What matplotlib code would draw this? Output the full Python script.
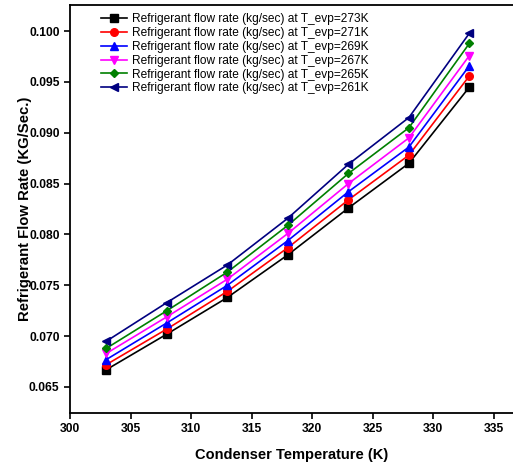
import matplotlib
matplotlib.use('Agg')
import matplotlib.pyplot as plt

plt.rcParams['font.family'] = ['Liberation Sans', 'DejaVu Sans']

# condenser temperature (K)
temp = [303, 308, 313, 318, 323, 328, 333]

# refrigerant flow rate (kg/sec) for each evaporator temperature
flow_273 = [0.0667, 0.0702, 0.0738, 0.0780, 0.0826, 0.0870, 0.0945]
flow_271 = [0.0672, 0.0707, 0.0744, 0.0787, 0.0834, 0.0878, 0.0956]
flow_269 = [0.0677, 0.0713, 0.0750, 0.0794, 0.0842, 0.0886, 0.0966]
flow_267 = [0.0683, 0.0719, 0.0756, 0.0801, 0.0850, 0.0895, 0.0976]
flow_265 = [0.0688, 0.0725, 0.0763, 0.0809, 0.0860, 0.0905, 0.0988]
flow_261 = [0.0695, 0.0733, 0.0770, 0.0816, 0.0869, 0.0915, 0.0998]

labels = ['Refrigerant flow rate (kg/sec) at T_evp=273K',
          'Refrigerant flow rate (kg/sec) at T_evp=271K',
          'Refrigerant flow rate (kg/sec) at T_evp=269K',
          'Refrigerant flow rate (kg/sec) at T_evp=267K',
          'Refrigerant flow rate (kg/sec) at T_evp=265K',
          'Refrigerant flow rate (kg/sec) at T_evp=261K']
series = [flow_273, flow_271, flow_269, flow_267, flow_265, flow_261]
colors = ['black', 'red', 'blue', 'magenta', 'green', 'navy']
markers = ['s', 'o', '^', 'v', 'D', '<']

fig = plt.figure(figsize=(5.13, 4.63), dpi=100)
ax = fig.add_axes([0.1365, 0.108, 0.8635, 0.881])

for y, lab, c, m in zip(series, labels, colors, markers):
    ms = 4.5 if m == 'D' else 5.5
    ax.plot(temp, y, color=c, marker=m, markersize=ms, linewidth=1.2, label=lab)

ax.set_xlim(300, 336.6)
ax.set_ylim(0.06244, 0.10256)
ax.set_xticks([300, 305, 310, 315, 320, 325, 330, 335])
ax.set_yticks([0.065, 0.070, 0.075, 0.080, 0.085, 0.090, 0.095, 0.100])
ax.yaxis.set_major_formatter(matplotlib.ticker.FormatStrFormatter('%.3f'))
ax.tick_params(direction='out', length=4, width=1.2, labelsize=8.7)
for t in ax.get_xticklabels() + ax.get_yticklabels():
    t.set_fontweight('bold')
for s in ['left', 'bottom', 'top']:
    ax.spines[s].set_linewidth(1.3)
ax.spines['right'].set_visible(False)

ax.set_xlabel('Condenser Temperature (K)', fontsize=10.5, fontweight='bold', labelpad=9)
ax.set_ylabel('Refrigerant Flow Rate (KG/Sec.)', fontsize=10.7, fontweight='bold', labelpad=-2)

ax.legend(loc='upper left', frameon=False, fontsize=8.6, handlelength=2.2,
          labelspacing=0.15, handletextpad=0.45, borderaxespad=0.3,
          bbox_to_anchor=(0.05, 1.0))

fig.savefig('out.png', dpi=100)
